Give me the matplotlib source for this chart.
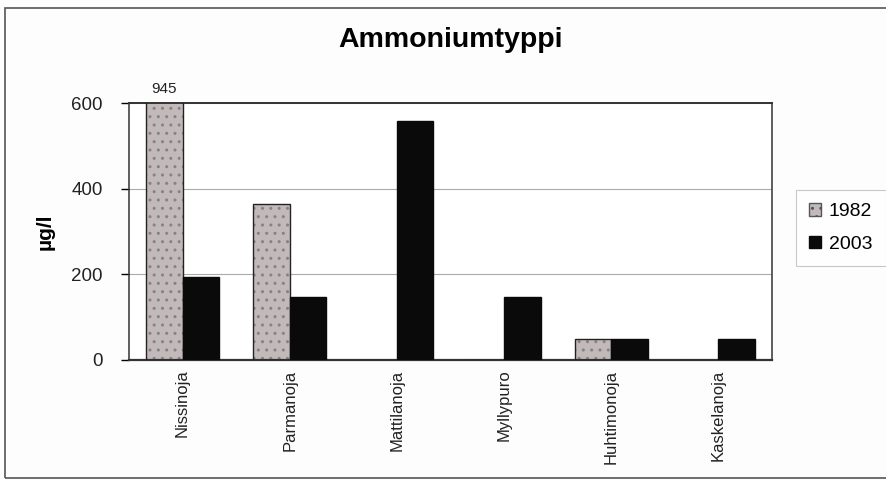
import matplotlib
matplotlib.use("Agg")
import matplotlib.pyplot as plt
import numpy as np
from matplotlib.patches import Rectangle, Patch

categories = ["Nissinoja", "Parmanoja", "Mattilanoja", "Myllypuro", "Huhtimonoja", "Kaskelanoja"]
v1982 = [945, 365, 0, 0, 50, 0]
v2003 = [193, 146, 558, 146, 50, 48]
series_labels = ["1982", "2003"]
yticks = [0, 200, 400, 600]
ymax = 600

plt.rcParams['font.family'] = ['Liberation Sans', 'DejaVu Sans']

fig = plt.figure(figsize=(8.86, 4.8), dpi=100)
fig.patch.set_facecolor('#fdfdfd')
fig.patches.append(Rectangle((0.006, 0.004), 1.1, 0.979, transform=fig.transFigure,
                             fill=False, edgecolor='#555555', linewidth=1.2, zorder=0))

ax = fig.add_axes([0.1456, 0.25, 0.7257, 0.5354])
ax.set_facecolor('white')
x = np.arange(len(categories))
w = 0.34
ax.bar(x - w/2, v1982, w, color='#c2baba', edgecolor='#8a8282', hatch='..',
       linewidth=0, zorder=2)
ax.bar(x - w/2, v1982, w, fill=False, edgecolor='#222222', linewidth=1.0, zorder=3)
ax.bar(x + w/2, v2003, w, color='#0a0a0a', edgecolor='#0a0a0a', linewidth=1.0, zorder=3)

ax.set_ylim(0, ymax)
ax.set_xlim(-0.5, len(categories) - 0.5)
ax.set_yticks(yticks)
ax.set_yticklabels([str(t) for t in yticks], fontsize=13.5, color='#222222')
ax.yaxis.grid(True, color='#aaaaaa', linewidth=0.8, zorder=0)
ax.set_axisbelow(True)
ax.tick_params(axis='y', direction='out', length=6, width=1, pad=13)
ax.set_xticks(x)
ax.set_xticklabels(categories, rotation=90, fontsize=12, color='#222222')
ax.tick_params(axis='x', length=0, pad=7)
for s in ax.spines.values():
    s.set_color('#333333')
    s.set_linewidth(1.1)
ax.spines['bottom'].set_linewidth(1.6)
ax.spines['top'].set_linewidth(1.4)

ax.set_ylabel("µg/l", fontsize=15, fontweight='bold', labelpad=12)

for i, v in enumerate(v1982):
    if v > ymax:
        ax.annotate(str(v), xy=(x[i] - w/2, ymax), xytext=(0, 5),
                    textcoords='offset points', ha='center', va='bottom', fontsize=11,
                    color='#222222', annotation_clip=False)

fig.text(0.508, 1 - 40/480, "Ammoniumtyppi", ha='center', va='center', fontsize=20.5, fontweight='bold')

handles = [Patch(facecolor='#c2baba', edgecolor='#555555', hatch='..'),
           Patch(facecolor='#0a0a0a', edgecolor='#0a0a0a')]
leg = fig.legend(handles, series_labels, loc='center left',
                 bbox_to_anchor=(786/886, 1 - 228/480), fontsize=14,
                 handlelength=0.6, handleheight=0.6, handletextpad=0.4,
                 labelspacing=0.8, borderpad=0.7, frameon=True, fancybox=False)
leg.get_frame().set_edgecolor('#bbbbbb')
leg.get_frame().set_linewidth(0.8)

fig.savefig("out.png", dpi=100, facecolor=fig.get_facecolor())
